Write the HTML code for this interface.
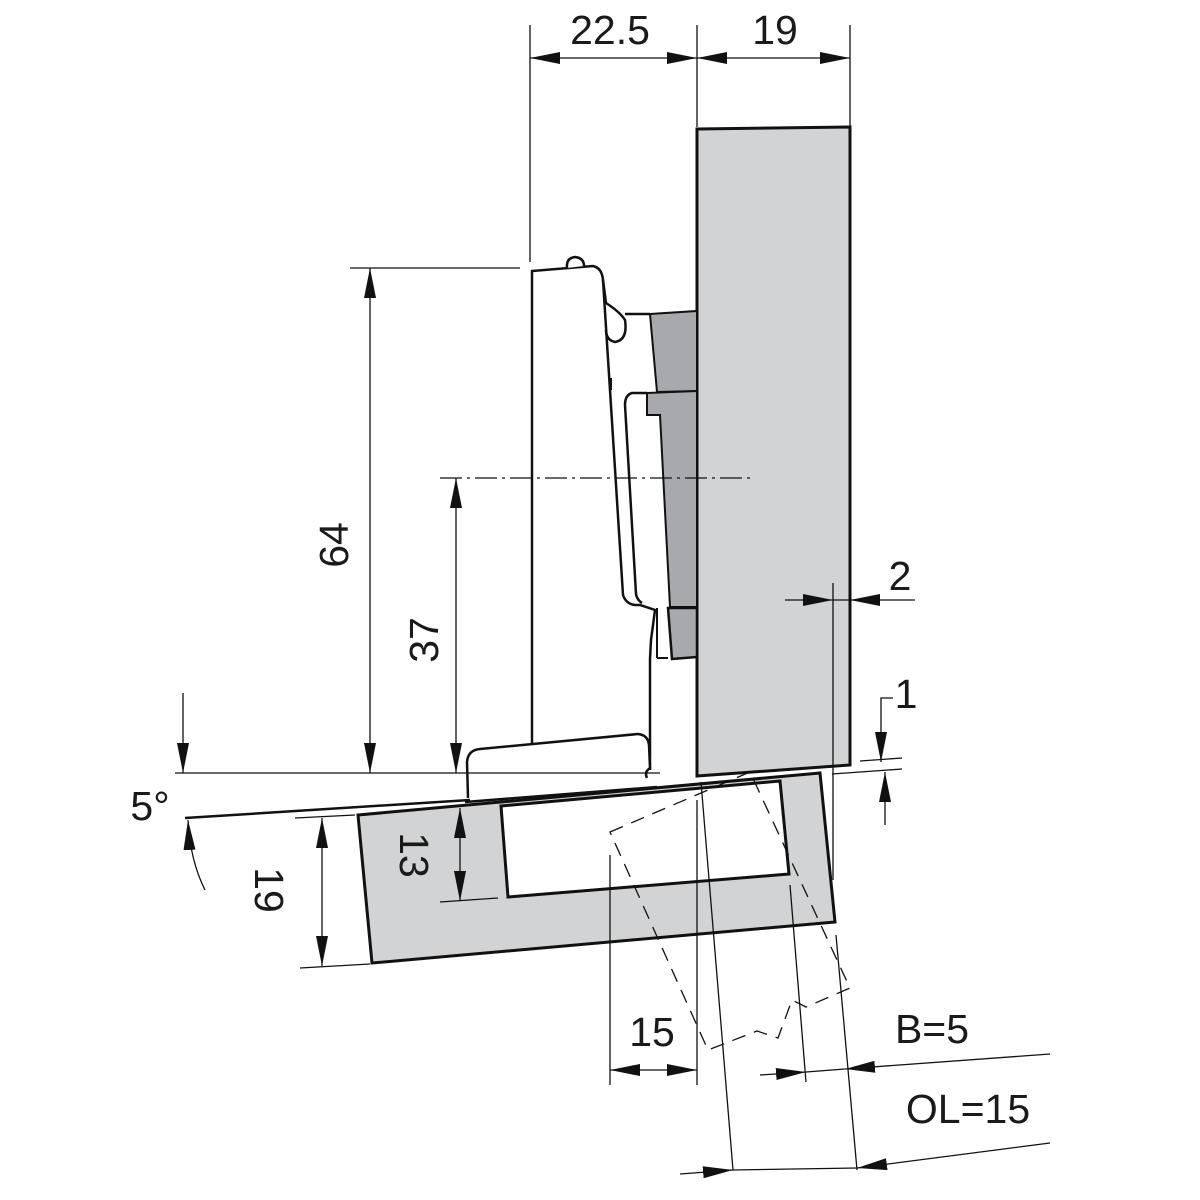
<!DOCTYPE html>
<html><head><meta charset="utf-8"><style>html,body{margin:0;padding:0;background:#fff}svg{display:block}text{font-family:"Liberation Sans","DejaVu Sans",sans-serif;fill:#1a1a1a}</style></head>
<body>
<svg width="1200" height="1200" viewBox="0 0 1200 1200" xmlns="http://www.w3.org/2000/svg">
<defs>
<marker id="a" viewBox="0 0 30 12" refX="30" refY="6" markerWidth="30" markerHeight="12" markerUnits="userSpaceOnUse" orient="auto"><path d="M0,0 L30,6 L0,12 Z" fill="#111"/></marker>
</defs>
<g stroke="#111" fill="none">
<polygon points="697,129 850,127 850,765 697,776" fill="#d1d3d4" stroke-width="3"/>
<polygon points="358,815 820,773 835,922 372,963" fill="#d1d3d4" stroke-width="3"/>
<polygon points="501,806 780,781 789,874 508,897" fill="#fff" stroke-width="3"/>
<line x1="185" y1="818" x2="470" y2="800" stroke-width="2.5"/>
<line x1="465" y1="802" x2="657" y2="787" stroke-width="2.5"/>
<polygon points="650,314 697,311 697,391 657,392" fill="#a7a9ac" stroke-width="2"/>
<polygon points="647,393 697,391 697,607 670,607 660,415 647,415" fill="#a7a9ac" stroke-width="2"/>
<polygon points="668,608 697,608 697,657 672,659" fill="#a7a9ac" stroke-width="2.5"/>
<path d="M532,745 L532,271 L593,266 Q602,268 603,280 L606,303 Q620,312 625,320 Q628,340 615,342 Q606,340 606,330" stroke-width="2.5" fill="#fff"/>
<path d="M603,280 L623,595 Q626,604 635,605 L640,605 L655,610 L651,640 L650,659 L650,770" stroke-width="2.5"/>
<path d="M625,314 L650,314" stroke-width="2.5"/>
<path d="M647,393 L632,393 Q625,395 625,405 L636,594 Q637,600 642,603" stroke-width="2.5"/>
<line x1="657" y1="608" x2="657" y2="658" stroke-width="2"/>
<line x1="657" y1="658" x2="668" y2="658" stroke-width="2"/>
<rect x="609" y="378" width="3" height="12" fill="#111" stroke="none"/>
<path d="M567,268 Q566,258 575,257 Q584,258 584,266" stroke-width="2.5" fill="#fff"/>
<path d="M468,798 L467,762 Q468,750 480,749 L638,734 Q648,735 649,745 L650,768 Q644,772 647,778" stroke-width="2.5" fill="#fff"/>
<line x1="440" y1="478" x2="750" y2="478" stroke-width="1.2" stroke-dasharray="22,5,3,5"/>
<path d="M610,832 L750,772 L850,988 L806,1007 L792,1000 L778,1038 L757,1031 L708,1050 Z" stroke-width="1.3" stroke-dasharray="14,9"/>
</g>
<g stroke="#111" stroke-width="1.3" fill="none">
<line x1="530" y1="25" x2="530" y2="262"/>
<line x1="697" y1="25" x2="697" y2="127"/>
<line x1="850" y1="25" x2="850" y2="127"/>
<line x1="565" y1="58" x2="530" y2="58" marker-end="url(#a)"/>
<line x1="660" y1="58" x2="697" y2="58" marker-end="url(#a)"/>
<line x1="730" y1="58" x2="697" y2="58" marker-end="url(#a)"/>
<line x1="815" y1="58" x2="850" y2="58" marker-end="url(#a)"/>
<line x1="565" y1="58" x2="660" y2="58"/><line x1="730" y1="58" x2="815" y2="58"/>
<line x1="350" y1="268" x2="520" y2="268"/>
<line x1="370" y1="520" x2="370" y2="268" marker-end="url(#a)"/>
<line x1="370" y1="520" x2="370" y2="773" marker-end="url(#a)"/>
<line x1="456" y1="620" x2="456" y2="478" marker-end="url(#a)"/>
<line x1="456" y1="620" x2="456" y2="773" marker-end="url(#a)"/>
<line x1="175" y1="773" x2="660" y2="773"/>
<line x1="183" y1="693" x2="183" y2="773" marker-end="url(#a)"/>
<path d="M205,890 Q190,860 188,820" marker-end="url(#a)"/>
<line x1="460" y1="855" x2="460" y2="808" marker-end="url(#a)"/>
<line x1="460" y1="855" x2="460" y2="901" marker-end="url(#a)"/>
<line x1="440" y1="902" x2="498" y2="898"/>
<line x1="295" y1="818" x2="355" y2="815"/>
<line x1="300" y1="968" x2="370" y2="964"/>
<line x1="322" y1="890" x2="322" y2="818" marker-end="url(#a)"/>
<line x1="322" y1="890" x2="322" y2="966" marker-end="url(#a)"/>
<line x1="610" y1="855" x2="610" y2="1085"/>
<line x1="697" y1="800" x2="697" y2="1085"/>
<line x1="701" y1="782" x2="733" y2="1170"/>
<line x1="790" y1="885" x2="806" y2="1082"/>
<line x1="836" y1="935" x2="857" y2="1170"/>
<line x1="833" y1="583" x2="833" y2="880"/>
<line x1="652" y1="1070" x2="610" y2="1070" marker-end="url(#a)"/>
<line x1="652" y1="1070" x2="697" y2="1070" marker-end="url(#a)"/>
<line x1="760" y1="1075" x2="806" y2="1072" marker-end="url(#a)"/>
<line x1="1050" y1="1054" x2="845" y2="1069" marker-end="url(#a)"/>
<line x1="806" y1="1072" x2="845" y2="1069"/>
<line x1="680" y1="1174" x2="733" y2="1170" marker-end="url(#a)"/>
<line x1="1050" y1="1143" x2="857" y2="1168" marker-end="url(#a)"/>
<line x1="733" y1="1170" x2="857" y2="1168"/>
<line x1="785" y1="600" x2="833" y2="600" marker-end="url(#a)"/>
<line x1="915" y1="600" x2="850" y2="600" marker-end="url(#a)"/>
<line x1="833" y1="600" x2="850" y2="600"/>
<path d="M893,698 L881,698 L881,762" marker-end="url(#a)"/>
<line x1="885" y1="825" x2="885" y2="772" marker-end="url(#a)"/>
<line x1="860" y1="761" x2="902" y2="758"/>
<line x1="832" y1="774" x2="902" y2="769"/>
</g>
<g font-size="41">
<text x="610" y="44" text-anchor="middle">22.5</text>
<text x="775" y="44" text-anchor="middle">19</text>
<text transform="translate(348,545) rotate(-90)" text-anchor="middle">64</text>
<text transform="translate(438,640) rotate(-90)" text-anchor="middle">37</text>
<text transform="translate(400,855) rotate(90)" text-anchor="middle">13</text>
<text transform="translate(255,890) rotate(90)" text-anchor="middle">19</text>
<text x="150" y="820" text-anchor="middle">5°</text>
<text x="652" y="1046" text-anchor="middle">15</text>
<text x="900" y="590" text-anchor="middle">2</text>
<text x="906" y="708" text-anchor="middle">1</text>
<text x="932" y="1043" text-anchor="middle">B=5</text>
<text x="968" y="1123" text-anchor="middle">OL=15</text>
</g>
</svg>
</body></html>
